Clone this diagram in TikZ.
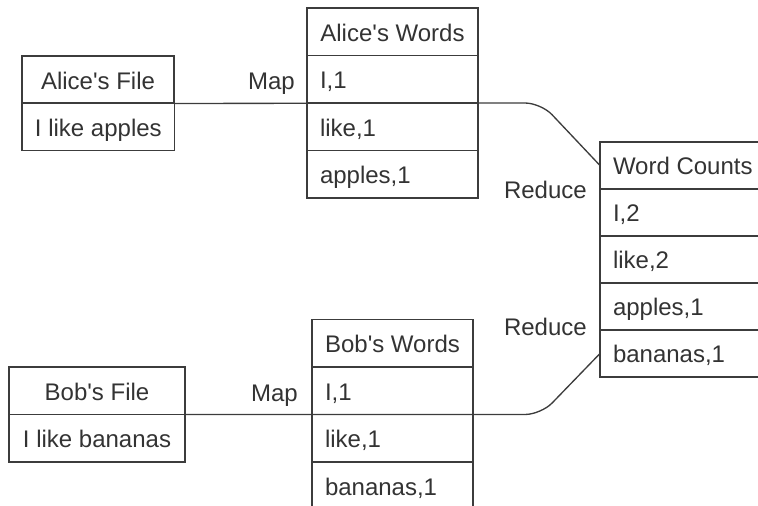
\documentclass[tikz,border=0pt]{standalone}
\usepackage{fontspec}
\setmainfont{Liberation Sans}
\newdimen\pxu \pxu=0.75pt
\definecolor{linec}{HTML}{3C3C3C}
\definecolor{textc}{HTML}{333333}
\newcommand\aps{\textquotesingle}
\begin{document}
\begin{tikzpicture}[x=0.75pt,y=-0.75pt,
  cell/.style={draw=linec, line width=1pt, outer sep=0pt,
    minimum height=47.5\pxu, inner xsep=13\pxu, inner ysep=0pt,
    text height=13.9pt, text depth=0pt, anchor=north west,
    text=textc, font=\fontsize{18}{20}\selectfont},
  cellL/.style={cell, align=left, text width=#1\pxu-26\pxu},
  cellC/.style={cell, minimum width=#1\pxu},
  lbl/.style={inner sep=0pt, anchor=base east, text=textc,
    font=\fontsize{18}{20}\selectfont},
  link/.style={draw=linec, line width=1pt, rounded corners=16\pxu}]
\useasboundingbox (0,0) rectangle (758,506);
\clip (0,0) rectangle (758,506);

% Alice's input file
\node[cellC=152] (af1) at (22,56)    {Alice\aps s File};
\node[cellC=152] (af2) at (22,103)   {I like apples};

% Alice's mapped words
\node[cellC=171]   (aw1) at (307,8)     {Alice\aps s Words};
\node[cellL=171]   (aw2) at (307,55.5)  {I,1};
\node[cellL=171]   (aw3) at (307,103)   {like,1};
\node[cellL=171]   (aw4) at (307,150.5) {apples,1};

% Reduced word counts
\node[cellC=165, minimum height=47\pxu] (wc1) at (600,142) {Word Counts};
\node[cellL=165, minimum height=47\pxu] (wc2) at (600,189) {I,2};
\node[cellL=165, minimum height=47\pxu] (wc3) at (600,236) {like,2};
\node[cellL=165, minimum height=47\pxu] (wc4) at (600,283) {apples,1};
\node[cellL=165, minimum height=47\pxu] (wc5) at (600,330) {bananas,1};

% Bob's input file
\node[cellC=176] (bf1) at (9,367)    {Bob\aps s File};
\node[cellC=176] (bf2) at (9,414.5)  {I like bananas};

% Bob's mapped words
\node[cellC=161]   (bw1) at (312,319.5) {Bob\aps s Words};
\node[cellL=161]   (bw2) at (312,367)   {I,1};
\node[cellL=161]   (bw3) at (312,414.5) {like,1};
\node[cellL=161]   (bw4) at (312,462)   {bananas,1};

% Step labels
\node[lbl] (map1) at (295,90)    {Map};
\node[lbl] (map2) at (298,401.5) {Map};
\node[lbl] (red1) at (587,199)   {Reduce};
\node[lbl] (red2) at (587,335.5) {Reduce};

% Data flow
\draw[link] (af1.south east) -- (aw2.south east) -- ++(63,0) -- (wc1.west);
\draw[link] (bf1.south east) -- (bw2.south east) -- ++(68,0) -- (wc5.west);
\end{tikzpicture}
\end{document}
